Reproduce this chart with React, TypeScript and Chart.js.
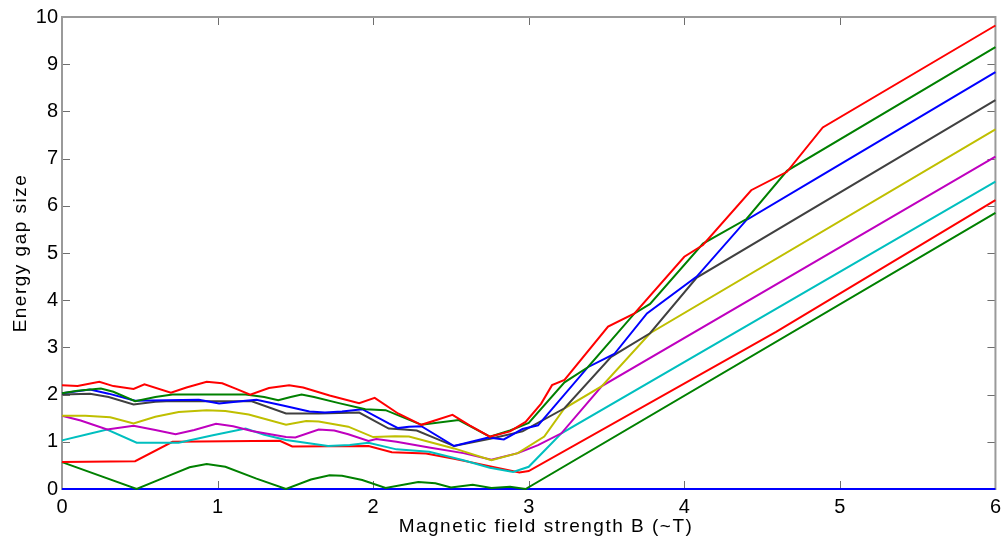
import React, { useEffect, useRef } from "react";
import { Chart, registerables } from "chart.js";

Chart.register(...registerables);

const X_TICKS = [0, 1, 2, 3, 4, 5, 6];
const Y_TICKS = [0, 1, 2, 3, 4, 5, 6, 7, 8, 9, 10];
const X_LABEL = "Magnetic field strength B (~T)";
const Y_LABEL = "Energy gap size";

// level 10 (red, top)
const redTopX = [0, 0.10, 0.24, 0.33, 0.46, 0.53, 0.70, 0.80, 0.93, 1.03, 1.12, 1.21, 1.33, 1.46, 1.55, 1.72, 1.91, 2.01, 2.16, 2.31, 2.51, 2.62, 2.75, 2.88, 2.98, 3.08, 3.15, 3.23, 3.51, 3.68, 4.00, 4.12, 4.43, 4.66, 4.89, 6];
const redTopY = [2.20, 2.18, 2.27, 2.18, 2.12, 2.22, 2.04, 2.15, 2.27, 2.24, 2.12, 2.00, 2.14, 2.20, 2.15, 1.98, 1.82, 1.93, 1.60, 1.36, 1.57, 1.35, 1.11, 1.22, 1.42, 1.81, 2.20, 2.31, 3.44, 3.72, 4.92, 5.17, 6.33, 6.72, 7.66, 9.82];

// level 9 (green)
const greenTopX = [0, 0.10, 0.25, 0.33, 0.47, 0.60, 0.71, 0.95, 1.18, 1.30, 1.39, 1.47, 1.54, 1.62, 1.78, 1.95, 2.08, 2.31, 2.55, 2.75, 2.88, 3.00, 3.23, 3.38, 3.68, 3.78, 4.12, 4.40, 4.66, 6];
const greenTopY = [2.03, 2.08, 2.13, 2.06, 1.86, 1.95, 2.00, 2.00, 2.00, 1.95, 1.88, 1.95, 2.00, 1.95, 1.82, 1.69, 1.67, 1.36, 1.46, 1.11, 1.24, 1.40, 2.26, 2.58, 3.72, 3.92, 5.20, 5.72, 6.74, 9.36];

// level 8 (blue)
const blueTopX = [0, 0.18, 0.30, 0.47, 0.67, 0.88, 1.01, 1.18, 1.25, 1.42, 1.59, 1.69, 1.80, 1.93, 2.10, 2.16, 2.23, 2.31, 2.52, 2.74, 2.84, 2.96, 3.06, 3.38, 3.55, 3.76, 4.08, 4.40, 4.85, 6];
const blueTopY = [2.03, 2.11, 2.02, 1.87, 1.88, 1.89, 1.81, 1.87, 1.89, 1.77, 1.64, 1.62, 1.64, 1.69, 1.39, 1.29, 1.32, 1.33, 0.91, 1.09, 1.05, 1.27, 1.35, 2.58, 2.86, 3.72, 4.50, 5.70, 6.58, 8.83];

// level 7 (gray)
const grayX = [0, 0.18, 0.30, 0.46, 0.60, 0.67, 1.22, 1.44, 1.65, 1.91, 2.10, 2.20, 2.28, 2.52, 2.76, 2.96, 3.23, 3.53, 3.78, 4.08, 6];
const grayY = [2.00, 2.02, 1.95, 1.79, 1.85, 1.86, 1.86, 1.60, 1.60, 1.62, 1.28, 1.26, 1.24, 0.91, 1.07, 1.22, 1.71, 2.80, 3.30, 4.48, 8.24];

// level 6 (yellow)
const yellowX = [0, 0.15, 0.31, 0.46, 0.60, 0.75, 0.93, 1.05, 1.20, 1.44, 1.57, 1.65, 1.84, 2.00, 2.14, 2.23, 2.52, 2.76, 2.93, 3.10, 3.23, 3.47, 3.78, 6];
const yellowY = [1.55, 1.55, 1.52, 1.39, 1.53, 1.63, 1.67, 1.65, 1.58, 1.36, 1.44, 1.43, 1.32, 1.10, 1.12, 1.11, 0.86, 0.61, 0.76, 1.11, 1.71, 2.18, 3.30, 7.62];

// level 5 (magenta)
const magentaX = [0, 0.12, 0.29, 0.46, 0.60, 0.73, 0.85, 0.99, 1.10, 1.22, 1.44, 1.50, 1.65, 1.75, 1.84, 1.97, 2.02, 2.15, 2.36, 2.58, 2.76, 2.93, 3.06, 3.21, 3.47, 6];
const magentaY = [1.55, 1.45, 1.26, 1.34, 1.25, 1.16, 1.25, 1.38, 1.33, 1.23, 1.10, 1.09, 1.26, 1.24, 1.16, 1.02, 1.06, 1.00, 0.88, 0.76, 0.62, 0.76, 0.93, 1.18, 2.18, 7.04];

// level 4 (cyan)
const cyanX = [0, 0.15, 0.29, 0.48, 0.75, 0.97, 1.18, 1.30, 1.44, 1.52, 1.71, 1.85, 1.97, 2.15, 2.36, 2.58, 2.75, 2.90, 3.00, 3.21, 6];
const cyanY = [1.03, 1.15, 1.26, 0.98, 0.98, 1.14, 1.28, 1.15, 1.04, 1.00, 0.91, 0.93, 0.98, 0.84, 0.79, 0.61, 0.45, 0.36, 0.47, 1.18, 6.51];

// level 3 (red)
const redLowX = [0, 0.47, 0.71, 1.40, 1.48, 1.97, 2.12, 2.34, 2.52, 2.74, 2.94, 3.00, 4.59, 6];
const redLowY = [0.57, 0.59, 1.00, 1.02, 0.90, 0.91, 0.78, 0.75, 0.64, 0.49, 0.35, 0.38, 3.33, 6.12];

// level 2 (green)
const greenLowX = [0, 0.48, 0.70, 0.82, 0.93, 1.05, 1.25, 1.44, 1.60, 1.72, 1.80, 1.93, 2.08, 2.29, 2.40, 2.50, 2.64, 2.76, 2.88, 2.98, 6];
const greenLowY = [0.57, 0.00, 0.30, 0.46, 0.53, 0.47, 0.22, 0.00, 0.20, 0.29, 0.28, 0.19, 0.02, 0.15, 0.12, 0.03, 0.09, 0.02, 0.05, 0.00, 5.85];

// level 1 (blue, zero)
const blueZeroX = [0, 6];
const blueZeroY = [0, 0];

const SERIES = [
  { xs: redTopX, ys: redTopY, color: "#ff0000" },
  { xs: greenTopX, ys: greenTopY, color: "#008000" },
  { xs: blueTopX, ys: blueTopY, color: "#0000ff" },
  { xs: grayX, ys: grayY, color: "#404040" },
  { xs: yellowX, ys: yellowY, color: "#bfbf00" },
  { xs: magentaX, ys: magentaY, color: "#bf00bf" },
  { xs: cyanX, ys: cyanY, color: "#00bfbf" },
  { xs: redLowX, ys: redLowY, color: "#ff0000" },
  { xs: greenLowX, ys: greenLowY, color: "#008000" },
  { xs: blueZeroX, ys: blueZeroY, color: "#0000ff" },
];

const FONT = "'Liberation Sans', Arial, sans-serif";

const boxPlugin = {
  id: "matlabBox",
  beforeDatasetsDraw(chart: any) {
    const { ctx, chartArea } = chart;
    const { left, right, top, bottom } = chartArea;
    const xs = chart.scales.x;
    const ys = chart.scales.y;
    ctx.save();
    ctx.strokeStyle = "#6e6e6e";
    ctx.lineWidth = 1;
    const L = 8;
    ctx.beginPath();
    X_TICKS.forEach((v) => {
      const px = Math.round(xs.getPixelForValue(v)) + 0.5;
      ctx.moveTo(px, bottom);
      ctx.lineTo(px, bottom - L);
      ctx.moveTo(px, top);
      ctx.lineTo(px, top + L);
    });
    Y_TICKS.forEach((v) => {
      const py = Math.round(ys.getPixelForValue(v)) + 0.5;
      ctx.moveTo(left, py);
      ctx.lineTo(left + L, py);
      ctx.moveTo(right, py);
      ctx.lineTo(right - L, py);
    });
    ctx.stroke();
    ctx.strokeStyle = "#9a9a9a";
    ctx.lineWidth = 2;
    ctx.strokeRect(left, top, right - left, bottom - top);
    ctx.restore();
  },
  afterDraw(chart: any) {
    const { ctx, chartArea } = chart;
    const cy = (chartArea.top + chartArea.bottom) / 2;
    ctx.save();
    ctx.fillStyle = "#000";
    ctx.font = `19px ${FONT}`;
    (ctx as any).letterSpacing = "1.5px";
    ctx.textAlign = "center";
    ctx.textBaseline = "alphabetic";
    ctx.fillText(X_LABEL, 546, 531.5);
    ctx.translate(25.5, cy);
    ctx.rotate(-Math.PI / 2);
    ctx.fillText(Y_LABEL, 0, 0);
    ctx.restore();
  },
};

export default function App() {
  const canvasRef = useRef<HTMLCanvasElement | null>(null);

  useEffect(() => {
    const canvas = canvasRef.current;
    if (!canvas) return;
    const chart = new Chart(canvas, {
      type: "line",
      data: {
        datasets: SERIES.map((s) => ({
          data: s.xs.map((x, i) => ({ x, y: s.ys[i] })),
          borderColor: s.color,
          backgroundColor: s.color,
          borderWidth: 2,
          pointRadius: 0,
          tension: 0,
          fill: false,
          clip: false as any,
        })),
      },
      options: {
        animation: false,
        responsive: false,
        maintainAspectRatio: false,
        layout: { padding: { left: 0, right: 7, top: 17, bottom: 0 } },
        plugins: {
          legend: { display: false },
          tooltip: { enabled: false },
        },
        scales: {
          x: {
            type: "linear",
            min: 0,
            max: 6,
            afterFit: (scale: any) => {
              scale.height = 48;
            },
            afterBuildTicks: (scale: any) => {
              scale.ticks = X_TICKS.map((v) => ({ value: v }));
            },
            grid: { display: false, drawTicks: false },
            border: { display: false },
            ticks: {
              color: "#000",
              padding: 6,
              maxRotation: 0,
              font: { family: FONT, size: 20 },
              callback: (v: any) => String(v),
            },
            title: { display: false },
          },
          y: {
            type: "linear",
            min: 0,
            max: 10,
            afterFit: (scale: any) => {
              scale.width = 62;
            },
            afterBuildTicks: (scale: any) => {
              scale.ticks = Y_TICKS.map((v) => ({ value: v }));
            },
            grid: { display: false, drawTicks: false },
            border: { display: false },
            ticks: {
              color: "#000",
              padding: 4,
              font: { family: FONT, size: 20 },
              callback: (v: any) => String(v),
            },
            title: { display: false },
          },
        },
      },
      plugins: [boxPlugin],
    });
    return () => chart.destroy();
  }, []);

  return (
    <div style={{ position: "absolute", left: 0, top: 0, width: 1007, height: 537, background: "#fff" }}>
      <canvas ref={canvasRef} width={1007} height={537} style={{ display: "block" }} />
    </div>
  );
}
